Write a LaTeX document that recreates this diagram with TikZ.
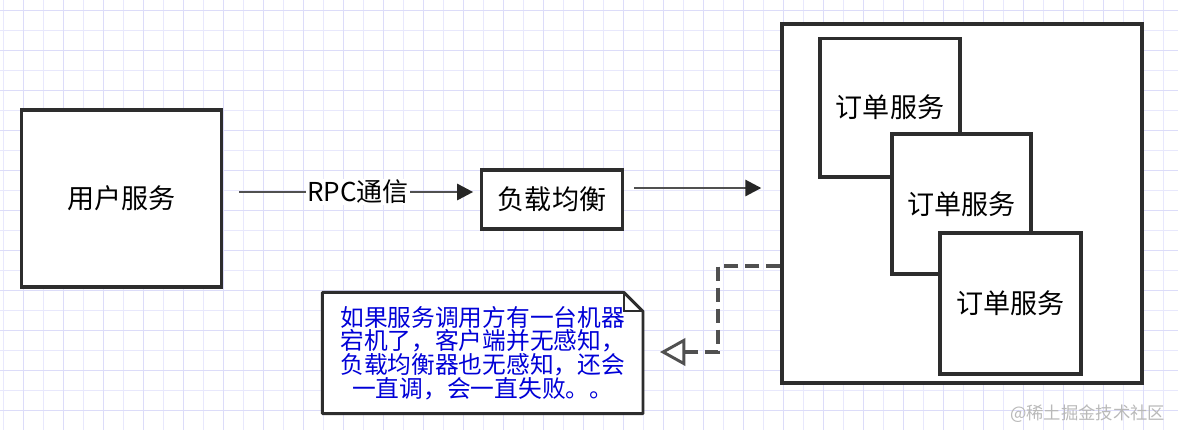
\documentclass[tikz,border=0pt]{standalone}
\usepackage{fontspec}
\setmainfont{Noto Sans CJK SC}
\usetikzlibrary{arrows.meta}

\definecolor{gridminor}{RGB}{232,232,252}
\definecolor{gridmajor}{RGB}{220,220,249}
\definecolor{boxline}{RGB}{45,45,45}
\definecolor{arrowline}{RGB}{80,80,80}
\definecolor{notetext}{RGB}{0,0,215}

\begin{document}
\begin{tikzpicture}[x=0.75pt, y=-0.75pt,
  svc/.style={draw=boxline, line width=2.5pt, fill=white, inner sep=0pt,
    font=\fontsize{20.3}{24}\selectfont},
  flow/.style={draw=arrowline, line width=2.1pt,
    -{Triangle[length=12pt, width=12pt, color=black!85]}},
  back/.style={draw=arrowline, line width=2.6pt, dash pattern=on 10.5pt off 5.25pt,
    -{Triangle[length=19pt, width=20.5pt, fill=white, line width=2.2pt]}},
  notebox/.style={fill=white, inner sep=0pt, minimum width=240pt, minimum height=90.5pt,
    align=center, text=notetext, font=\fontsize{17.8}{17.8}\selectfont}]

\useasboundingbox (0,0) rectangle (1178,430);

% Grid paper
\fill[white] (0,0) rectangle (1178,430);
\foreach \gx in {3,23,...,1163} {
    \draw[gridminor, line width=0.75pt] (\gx,0) -- (\gx,430);
}
\foreach \gy in {10,30,...,410} {
    \draw[gridminor, line width=0.75pt] (0,\gy) -- (1178,\gy);
}
\foreach \gx in {23,63,...,1143} {
    \draw[gridmajor, line width=0.75pt] (\gx,0) -- (\gx,430);
}
\foreach \gy in {10,50,...,410} {
    \draw[gridmajor, line width=0.75pt] (0,\gy) -- (1178,\gy);
}

% Caller
\node[svc, minimum width=150pt, minimum height=132.75pt] (user) at (121.5,198.5) {用户服务};

% Load balancer
\node[svc, minimum width=105.75pt, minimum height=44.25pt] (lb) at (552,199.5) {负载均衡};

% Service cluster
\node[svc, minimum width=270pt, minimum height=269.25pt] (cluster) at (962,203.5) {};
\node[svc, minimum width=105pt, minimum height=104pt] (order1) at (890,107.5) {订单服务};
\node[svc, minimum width=104.25pt, minimum height=105pt] (order2) at (961.5,204) {订单服务};
\node[svc, minimum width=105.75pt, minimum height=105.75pt] (order3) at (1010.5,303.5) {订单服务};

% Calls
\draw[flow, shorten <=12pt, shorten >=5pt] (user.east |- 0,192) -- (lb.west |- 0,192)
    node[pos=0.525, fill=white, inner sep=1pt, text=black, font=\fontsize{19.5}{22}\selectfont] (rpc) {RPC通信};
\draw[flow, shorten <=7.5pt, shorten >=14.25pt] (lb.east |- 0,188) -- (cluster.west |- 0,188);

% Note
\node[notebox] (note) at (482.7,353) {如果服务调用方有一台机器\\宕机了，客户端并无感知，\\负载均衡器也无感知，还会\\一直调，会一直失败。。};
\draw[boxline, line width=2.2pt, line join=round] (note.north west) -- ([xshift=-14.25pt]note.north east)
    -- ([yshift=-14.25pt]note.north east) -- (note.south east) -- (note.south west) -- cycle;
\draw[boxline, line width=1.6pt] ([xshift=-14.25pt]note.north east) |- ([yshift=-14.25pt]note.north east);

% Failure feedback
\coordinate (bend) at (718,352);
\draw[back, shorten >=12.75pt] (cluster.west |- 0,266) -| (bend) -- (note.east |- bend);

% Watermark
\node[anchor=east, text=gray!55, font=\fontsize{13}{15}\selectfont] (mark) at (1170,414) {@稀土掘金技术社区};

\end{tikzpicture}
\end{document}
